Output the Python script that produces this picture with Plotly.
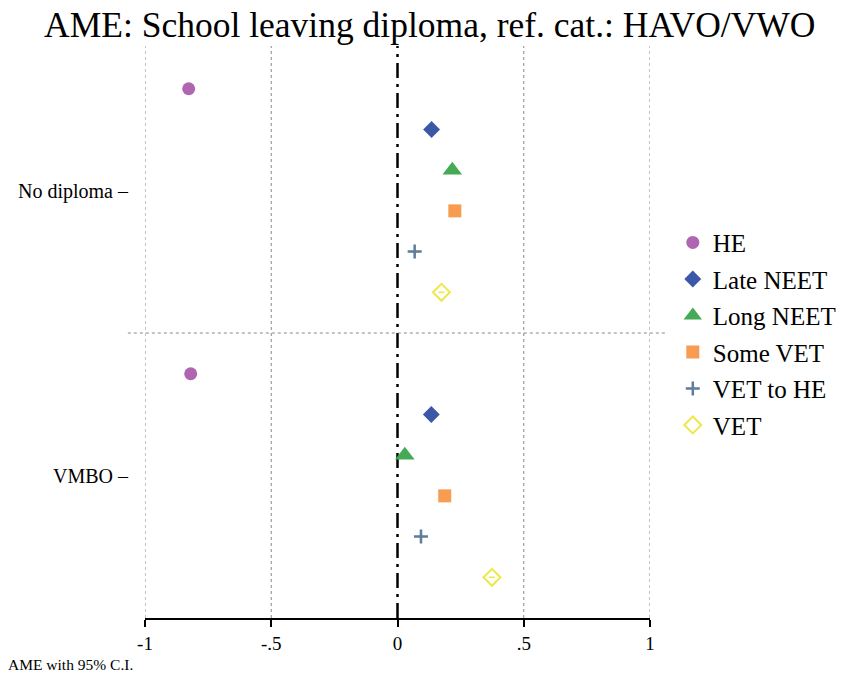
import plotly.graph_objects as go

categories = ["No diploma", "VMBO"]
series = ["HE", "Late NEET", "Long NEET", "Some VET", "VET to HE", "VET"]
values = {
    "HE":        [-0.827, -0.819],
    "Late NEET": [0.135, 0.134],
    "Long NEET": [0.217, 0.029],
    "Some VET":  [0.227, 0.187],
    "VET to HE": [0.068, 0.093],
    "VET":       [0.174, 0.374],
}
ci_half = {
    "HE": [0.01, 0.01], "Late NEET": [0.01, 0.01], "Long NEET": [0.01, 0.01],
    "Some VET": [0.01, 0.01], "VET to HE": [0.01, 0.01], "VET": [0.012, 0.012],
}
x_ticks = [-1, -0.5, 0, 0.5, 1]
x_ticklabels = ["-1", "-.5", "0", ".5", "1"]

styles = {
    "HE":        dict(symbol="circle", size=13, color="#b065b0"),
    "Late NEET": dict(symbol="diamond", size=13, color="#3b58a8"),
    "Long NEET": dict(symbol="triangle-up", size=17, color="#44aa55"),
    "Some VET":  dict(symbol="square", size=13, color="#f89c52"),
    "VET to HE": dict(symbol="cross-thin", size=10, color="#5d7d9b", line=dict(width=2.5, color="#5d7d9b")),
    "VET":       dict(symbol="diamond-open", size=13, color="#ede84a", line=dict(width=2, color="#ede84a")),
}

FONT = "Liberation Serif"
group_start = [0, 7]  # row index of first series in each group
fig = go.Figure()
for i, s in enumerate(series):
    ys = [g + i for g in group_start]
    fig.add_trace(go.Scatter(
        x=values[s], y=ys, mode="markers", name=s, legendgroup=s,
        marker=styles[s],
        error_x=dict(type="data", array=ci_half[s], color=styles[s]["color"], thickness=1.5, width=0),
    ))

grid_shapes = []
for xv in [-1, -0.5, 0.5, 1]:
    grid_shapes.append(dict(type="line", xref="x", yref="paper", x0=xv, x1=xv, y0=0, y1=1,
                            line=dict(color="#888888", width=1, dash="dot"), layer="below"))
grid_shapes.append(dict(type="line", xref="x", yref="paper", x0=0, x1=0, y0=0, y1=1,
                        line=dict(color="black", width=2.5, dash="longdashdot"), layer="below"))
grid_shapes.append(dict(type="line", xref="paper", yref="y", x0=-0.034, x1=1.03, y0=6, y1=6,
                        line=dict(color="#888888", width=1, dash="dot"), layer="below"))

fig.update_layout(
    width=841, height=679,
    margin=dict(l=145, r=191, t=46, b=61),
    paper_bgcolor="white", plot_bgcolor="white",
    font=dict(family=FONT, color="black"),
    title=dict(text="AME: School leaving diploma, ref. cat.: HAVO/VWO", x=0.511, xref="container",
               xanchor="center", y=0.982, yanchor="top", font=dict(size=35.5, family=FONT)),
    shapes=grid_shapes,
    showlegend=True,
    legend=dict(x=0.8, xref="container", xanchor="left", y=0.497, yanchor="middle",
                font=dict(size=25, family=FONT),
                tracegroupgap=1, bgcolor="rgba(0,0,0,0)", itemsizing="trace"),
    annotations=[dict(text="AME with 95% C.I.", xref="paper", yref="paper", x=-0.276, y=-0.082,
                      xanchor="left", yanchor="middle", showarrow=False, font=dict(size=15.5, family=FONT))],
)
fig.update_xaxes(range=[-1, 1], tickvals=x_ticks, ticktext=x_ticklabels, showgrid=False, zeroline=False,
                 showline=True, linecolor="black", linewidth=1.5, ticks="outside", ticklen=7,
                 tickcolor="black", tickwidth=1.5, tickfont=dict(size=19, family=FONT))
fig.update_yaxes(range=[13, -1.05], tickvals=[2.5, 9.5], ticktext=[c + " –" for c in categories],
                 showgrid=False, zeroline=False, showline=False, ticks="", ticklabelstandoff=16,
                 tickfont=dict(size=20, family=FONT))

fig.write_html("out.html", config={"displayModeBar": False},
               post_script="document.body.style.margin='0';")
